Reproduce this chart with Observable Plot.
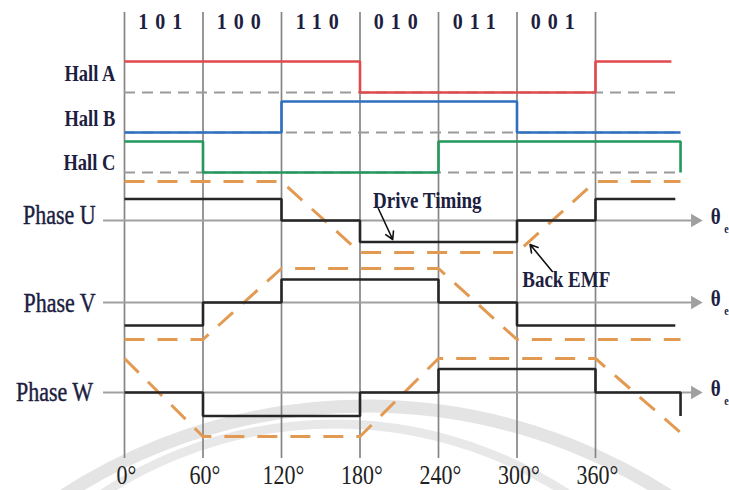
<!DOCTYPE html>
<html><head><meta charset="utf-8">
<script src="https://cdn.jsdelivr.net/npm/d3@7"></script>
<script src="https://cdn.jsdelivr.net/npm/@observablehq/plot@0.6"></script>
<style>body{margin:0;background:#fff}</style>
</head><body><div id="chart"></div>
<script>
// ---- data ----
const angles = [0, 60, 120, 180, 240, 300, 360];
const angleLabels = ["0°", "60°", "120°", "180°", "240°", "300°", "360°"];
const segMid = [30, 90, 150, 210, 270, 330];
const hallCodes = ["101", "100", "110", "010", "011", "001"];
const hallNames = ["Hall A", "Hall B", "Hall C"];
const hallA = [1, 1, 1, 0, 0, 0, 1];
const hallB = [0, 0, 1, 1, 1, 0, 0];
const hallC = [1, 0, 0, 0, 1, 1, 1];
const hallEnd = [418, 425, 425];
const hallEndValue = [1, 0, 0];
const phaseNames = ["Phase U", "Phase V", "Phase W"];
const driveU = [1, 1, 0, -1, -1, 0, 1];
const driveV = [-1, 0, 1, 1, 0, -1, -1];
const driveW = [0, -1, -1, 0, 1, 1, 0];
const driveEnd = [421, 421, 425];
const driveEndValue = [1, -1, -1];
const emfUAngles = [0, 120, 180, 300, 360, 425];
const emfU = [1, 1, -1, -1, 1, 1];
const emfVAngles = [0, 60, 120, 240, 300, 425];
const emfV = [-1, -1, 1, 1, -1, -1];
const emfWAngles = [0, 60, 180, 240, 360, 425];
const emfW = [1, -1, -1, 1, 1, -0.9];

// ---- layout (pixels on the y scale) ----
const hallLow = [92, 132, 172];
const hallAmp = 31;
const phaseAxis = [220, 302, 392];
const driveAmp = [21.5, 23, 23.5];
const emfCenter = [216.5, 303.5, 397];
const emfAmp = [35.5, 35.5, 39];
const hallColors = ["#e04a4c", "#2f6fc0", "#22985c"];
const ink = "#1c2040";
const serif = "'Liberation Serif','Times New Roman',serif";

const hallSeries = [hallA, hallB, hallC];
const driveSeries = [driveU, driveV, driveW];
const emfSeries = [[emfUAngles, emfU], [emfVAngles, emfV], [emfWAngles, emfW]];

const marks = [];
marks.push(Plot.ruleX(angles, {x: d => d, y1: 12, y2: 458, stroke: "#858585", strokeWidth: 1.7}));
marks.push(Plot.ruleY(hallLow, {y: d => d, x1: 0, x2: 425, stroke: "#9a9a9a", strokeWidth: 2, strokeDasharray: "11,7"}));
marks.push(Plot.ruleY(phaseAxis, {y: d => d, x1: -16, x2: 434, stroke: "#a0a0a0", strokeWidth: 2}));
marks.push(Plot.dot(phaseAxis, {x: 436, y: d => d, symbol: "triangle", rotate: 90, r: 5, fill: "#a0a0a0", stroke: "none"}));

hallSeries.forEach((s, i) => {
  const pts = s.map((v, k) => ({a: angles[k], v}));
  pts.push({a: hallEnd[i], v: hallEndValue[i]});
  marks.push(Plot.line(pts, {x: "a", y: d => hallLow[i] - hallAmp * d.v, curve: "step-after",
    stroke: hallColors[i], strokeWidth: 2.6, strokeLinejoin: "miter", strokeLinecap: "butt"}));
});

emfSeries.forEach(([as, vs], i) => {
  const pts = as.map((a, k) => ({a, v: vs[k]}));
  marks.push(Plot.line(pts, {x: "a", y: d => emfCenter[i] - emfAmp[i] * d.v,
    stroke: "#e29a52", strokeWidth: 3, strokeDasharray: "20,13", strokeLinecap: "butt"}));
});

driveSeries.forEach((s, i) => {
  const pts = s.map((v, k) => ({a: angles[k], v}));
  pts.push({a: driveEnd[i], v: driveEndValue[i]});
  marks.push(Plot.line(pts, {x: "a", y: d => phaseAxis[i] - driveAmp[i] * d.v, curve: "step-after",
    stroke: "#262626", strokeWidth: 2.6, strokeLinejoin: "miter", strokeLinecap: "butt"}));
});

marks.push(Plot.arrow([0], {x1: 194, y1: 208, x2: 205, y2: 239, stroke: "#111", strokeWidth: 1.6, headLength: 8}));
marks.push(Plot.arrow([0], {x1: 327, y1: 271, x2: 310, y2: 244, stroke: "#111", strokeWidth: 1.6, headLength: 8}));

marks.push(Plot.text(hallCodes, {x: (d, i) => segMid[i], y: 21, text: d => d, fontSize: 20, fontWeight: "bold",
  fontFamily: serif, fill: ink, className: "codes"}));
const hallLabelY = [73, 118, 162];
marks.push(Plot.text(hallNames, {x: -7, y: (d, i) => hallLabelY[i], text: d => d, textAnchor: "end",
  fontSize: 18.5, fontWeight: "bold", fontFamily: serif, fill: ink}));
const phaseLabelY = [215, 303, 392];
const phaseLabelX = [-22, -22, -24];
marks.push(Plot.text(phaseNames, {x: (d, i) => phaseLabelX[i], y: (d, i) => phaseLabelY[i], text: d => d, textAnchor: "end",
  fontSize: 22, fontFamily: serif, fill: ink, stroke: ink, strokeWidth: 0.35}));
marks.push(Plot.text(phaseAxis, {x: 448, y: d => d - 4, text: () => "θ", textAnchor: "start",
  fontSize: 19, fontWeight: "bold", fontFamily: serif, fill: ink}));
marks.push(Plot.text(phaseAxis, {x: 458.5, y: d => d + 9, text: () => "e", textAnchor: "start",
  fontSize: 10, fontWeight: "bold", fontFamily: serif, fill: ink}));
marks.push(Plot.text(angleLabels, {x: (d, i) => angles[i], y: 475, text: d => d, fontSize: 22,
  fontFamily: serif, fill: "#222", dx: 2}));
marks.push(Plot.text(["Drive Timing"], {x: 190, y: 200, text: d => d, textAnchor: "start",
  fontSize: 19, fontWeight: "bold", fontFamily: serif, fill: ink}));
marks.push(Plot.text(["Back EMF"], {x: 304, y: 279, text: d => d, textAnchor: "start",
  fontSize: 19, fontWeight: "bold", fontFamily: serif, fill: ink}));

const chart = Plot.plot({
  width: 729, height: 490, margin: 0,
  x: {domain: [0, 360], range: [124, 595], axis: null},
  y: {domain: [0, 490], range: [0, 490], axis: null},
  style: {background: "#fff", overflow: "visible"},
  marks
});

const svg = d3.select(chart);
const wm = svg.insert("g", ":first-child");
wm.append("circle").attr("cx", 366).attr("cy", 962).attr("r", 556)
  .attr("fill", "none").attr("stroke", "#e4e4e4").attr("stroke-width", 13);
wm.append("circle").attr("cx", 335).attr("cy", 846).attr("r", 422)
  .attr("fill", "none").attr("stroke", "#e8e8e8").attr("stroke-width", 9);

document.getElementById("chart").append(chart);

// hall codes are letter-spaced in the reference
svg.selectAll(".codes text").style("letter-spacing", "7px");

// stretch text vertically about its own centre, as in the reference
svg.selectAll("text").each(function () {
  const b = this.getBBox();
  const cy = b.y + b.height / 2;
  const t = this.getAttribute("transform") || "";
  this.setAttribute("transform", `${t} translate(0,${cy}) scale(1,1.2) translate(0,${-cy})`);
});
</script>
</body></html>
